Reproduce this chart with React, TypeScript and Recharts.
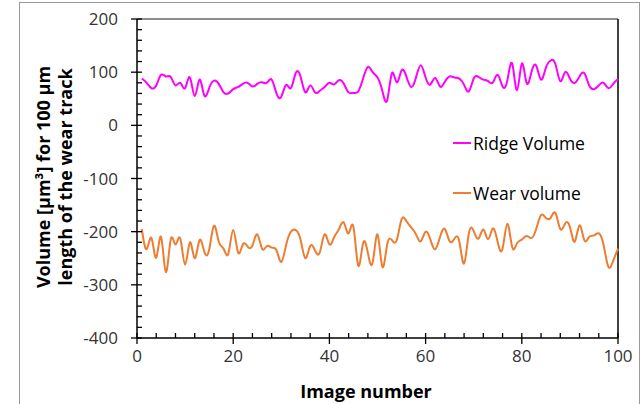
import { LineChart, Line, XAxis, YAxis, ReferenceLine } from 'recharts'

// values, image numbers 1..100
const ridgeVolume = [
  88, 80, 70, 75, 95, 92, 91, 75, 80, 70,
  90, 55, 86, 56, 70, 84, 78, 62, 60, 68,
  72, 78, 80, 73, 78, 81, 80, 86, 60, 54,
  76, 70, 98, 92, 62, 75, 62, 65, 72, 80,
  77, 85, 78, 62, 61, 64, 88, 110, 100, 90,
  65, 47, 98, 81, 103, 92, 72, 90, 113, 90,
  77, 89, 73, 82, 92, 90, 88, 76, 64, 88,
  91, 86, 83, 81, 95, 73, 85, 116, 66, 116,
  80, 100, 112, 86, 108, 122, 115, 83, 100, 88,
  80, 92, 98, 75, 68, 75, 80, 70, 78, 87,
]

const wearVolume = [
  -195, -233, -212, -249, -210, -276, -215, -224, -213, -262,
  -220, -250, -216, -238, -234, -189, -219, -232, -241, -197,
  -239, -224, -228, -226, -205, -232, -227, -230, -235, -257,
  -225, -200, -197, -215, -250, -227, -235, -239, -205, -224,
  -210, -195, -183, -203, -191, -264, -222, -240, -258, -205,
  -266, -225, -216, -216, -177, -180, -192, -205, -218, -200,
  -215, -233, -210, -195, -218, -213, -218, -260, -203, -199,
  -213, -196, -214, -194, -220, -232, -185, -229, -222, -215,
  -208, -212, -195, -169, -174, -174, -165, -195, -185, -191,
  -219, -188, -216, -210, -207, -203, -225, -266, -255, -232,
]

const xTicks = [0, 4, 8, 12, 16, 20, 24, 28, 32, 36, 40, 44, 48, 52, 56, 60, 64, 68, 72, 76, 80, 84, 88, 92, 96, 100]
const yTicks = [
  -400, -380, -360, -340, -320, -300, -280, -260, -240, -220, -200, -180, -160, -140, -120, -100,
  -80, -60, -40, -20, 0, 20, 40, 60, 80, 100, 120, 140, 160, 180, 200,
]

const data = ridgeVolume.map((r, i) => ({ image: i + 1, ridge: r, wear: wearVolume[i] }))

const FONT = '"Open Sans", sans-serif'

const XTick = ({ x, y, payload }: any) => {
  const major = payload.value % 20 === 0
  return (
    <g>
      <line x1={x} x2={x} y1={y - 5} y2={major ? y + 6 : y} stroke="#000" strokeWidth={1.3} />
      {major && (
        <text x={x} y={y + 24} textAnchor="middle" fontSize={17} fill="#333" fontFamily={FONT}>
          {payload.value}
        </text>
      )}
    </g>
  )
}

const YTick = ({ x, y, payload }: any) => {
  const major = payload.value % 100 === 0
  return (
    <g>
      <line x1={major ? x - 6 : x} x2={x + 5} y1={y} y2={y} stroke="#000" strokeWidth={1.3} />
      {major && (
        <text x={x - 19} y={y + 6} textAnchor="end" fontSize={17} fill="#333" fontFamily={FONT}>
          {payload.value}
        </text>
      )}
    </g>
  )
}

const legendRow = (color: string, label: string, top: number) => (
  <div style={{ position: 'absolute', left: 453, top, height: 22, display: 'flex', alignItems: 'center', gap: 2 }}>
    <div style={{ width: 18, height: 2, background: color }} />
    <span style={{ fontFamily: FONT, fontSize: 17.5, color: '#000' }}>{label}</span>
  </div>
)

export default function App() {
  return (
    <div style={{ position: 'fixed', left: 0, top: 0, width: 644, height: 404, background: '#fff', overflow: 'hidden' }}>
      {/* outer frame */}
      <div style={{ position: 'absolute', left: 19, top: 2, width: 619, height: 410, border: '1.5px solid #999' }} />

      <div style={{ position: 'absolute', left: 0, top: 0 }}>
        <LineChart width={644} height={404} data={data} margin={{ top: 19, right: 26, bottom: 36, left: 77 }}>
          <XAxis
            dataKey="image"
            type="number"
            domain={[0, 100]}
            ticks={xTicks}
            interval={0}
            tick={<XTick />}
            tickLine={false}
            tickSize={0}
            tickMargin={0}
            height={30}
            axisLine={{ stroke: '#000', strokeWidth: 1.5 }}
          />
          <YAxis
            type="number"
            domain={[-400, 200]}
            ticks={yTicks}
            interval={0}
            tick={<YTick />}
            tickLine={false}
            tickSize={0}
            tickMargin={0}
            width={60}
            axisLine={{ stroke: '#000', strokeWidth: 1.5 }}
          />
          <ReferenceLine y={200} stroke="#666" strokeWidth={1.5} />
          <ReferenceLine x={100} stroke="#000" strokeWidth={1.5} />
          <Line type="natural" dataKey="ridge" stroke="#FF00FF" strokeWidth={2} dot={false} isAnimationActive={false} />
          <Line type="natural" dataKey="wear" stroke="#ED7D31" strokeWidth={2} dot={false} isAnimationActive={false} />
        </LineChart>
      </div>

      {/* y axis title */}
      <div style={{
        position: 'absolute',
        left: 54 - 150,
        top: 177 - 22,
        width: 300,
        height: 44,
        transform: 'rotate(-90deg)',
        textAlign: 'center',
        fontFamily: FONT,
        fontWeight: 700,
        fontSize: 18,
        lineHeight: '22px',
        color: '#000',
        whiteSpace: 'nowrap',
      }}>
        <div>Volume [µm³] for 100 µm</div>
        <div>length of the wear track</div>
      </div>

      {/* x axis title */}
      <div style={{
        position: 'absolute',
        left: 366 - 100,
        top: 380,
        width: 200,
        textAlign: 'center',
        fontFamily: FONT,
        fontWeight: 700,
        fontSize: 18,
        lineHeight: '22px',
        color: '#000',
      }}>
        Image number
      </div>

      {legendRow('#FF00FF', 'Ridge Volume', 132)}
      {legendRow('#ED7D31', 'Wear volume', 182)}
    </div>
  )
}
